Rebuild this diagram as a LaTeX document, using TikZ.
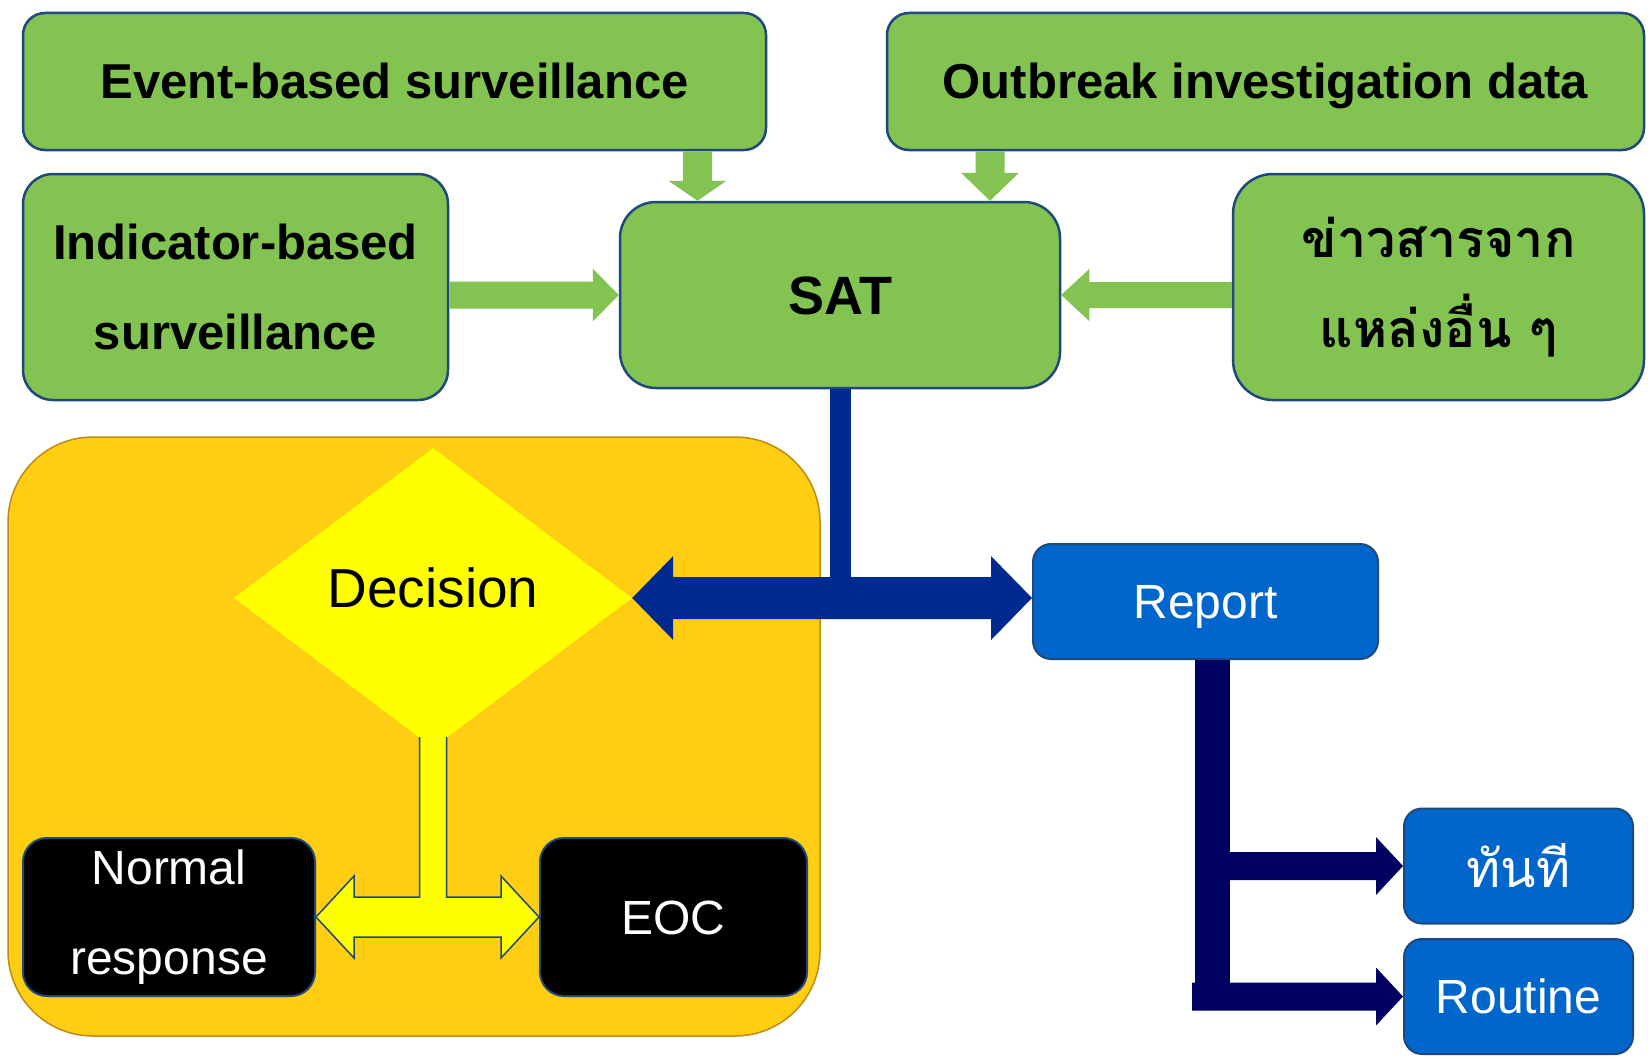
\documentclass[tikz,border=0pt]{standalone}
\usepackage{fontspec}
\setmainfont{Liberation Sans}
\newfontfamily\thai[Script=Thai]{Loma}
\usetikzlibrary{calc,shapes.geometric}
\definecolor{grn}{RGB}{130,195,82}
\definecolor{bord}{RGB}{31,73,125}
\definecolor{blu}{RGB}{0,102,204}
\definecolor{ylw}{RGB}{255,255,0}
\definecolor{org}{RGB}{255,205,17}
\definecolor{orgline}{RGB}{190,140,20}
\definecolor{dblue}{RGB}{0,42,143}
\definecolor{navyb}{RGB}{0,0,96}
% single block arrow: [style]{start}{end}{shaft half}{head half}{head length}
\newcommand\myblockarrow[6][]{%
  \coordinate (ba-s) at (#2);
  \coordinate (ba-e) at (#3);
  \coordinate (ba-b) at ($(ba-e)!#6!(ba-s)$);
  \fill[#1] ($(ba-s)!#4!90:(ba-e)$) -- ($(ba-b)!#4!-90:(ba-s)$) -- ($(ba-b)!#5!-90:(ba-s)$)
    -- (ba-e) -- ($(ba-b)!#5!90:(ba-s)$) -- ($(ba-b)!#4!90:(ba-s)$) -- ($(ba-s)!#4!-90:(ba-e)$) -- cycle;
}
% double block arrow
\newcommand\mydblarrow[6][]{%
  \coordinate (da-a) at (#2);
  \coordinate (da-b) at (#3);
  \coordinate (da-ha) at ($(da-a)!#6!(da-b)$);
  \coordinate (da-hb) at ($(da-b)!#6!(da-a)$);
  \fill[#1] (da-a) -- ($(da-ha)!#5!90:(da-b)$) -- ($(da-ha)!#4!90:(da-b)$) -- ($(da-hb)!#4!-90:(da-a)$)
    -- ($(da-hb)!#5!-90:(da-a)$) -- (da-b) -- ($(da-hb)!#5!90:(da-a)$) -- ($(da-hb)!#4!90:(da-a)$)
    -- ($(da-ha)!#4!-90:(da-b)$) -- ($(da-ha)!#5!-90:(da-b)$) -- cycle;
}
\tikzset{
  gbox/.style={draw=bord, line width=2.5pt, fill=grn, inner sep=0pt, align=center,
    font=\fontsize{49}{90}\selectfont\bfseries},
  bbox/.style={draw=bord, line width=2pt, fill=blu, text=white, inner sep=0pt, align=center,
    rounded corners=18pt, font=\fontsize{48}{90}\selectfont},
  kbox/.style={draw=bord, line width=2pt, fill=black, text=white, inner sep=0pt, align=center,
    rounded corners=24pt, font=\fontsize{48}{90}\selectfont},
  oneline/.style={text height=#1, text depth=0pt},
}
\begin{document}
\begin{tikzpicture}[x=1pt,y=-1pt]
\useasboundingbox (0,0) rectangle (1652,1057);
\fill[white] (0,0) rectangle (1652,1057);

% green source boxes
\node[gbox, oneline=35pt, rounded corners=22pt, minimum width=743pt, minimum height=137pt] (ebs) at (394.5,81.5) {Event-based surveillance};
\node[gbox, oneline=35pt, rounded corners=22pt, minimum width=757pt, minimum height=137pt] (obd) at (1265.5,81.5) {Outbreak investigation data};
\node[gbox, rounded corners=30pt, minimum width=425pt, minimum height=226pt] (ind) at (235.5,287) {Indicator-based\\surveillance};
\node[gbox, oneline=39pt, rounded corners=36pt, minimum width=440pt, minimum height=186pt, font=\fontsize{54}{60}\selectfont\bfseries] (sat) at (840,295) {SAT};
\node[gbox, rounded corners=40pt, minimum width=411pt, minimum height=226pt, font=\fontsize{52}{90}\selectfont\bfseries\thai] (oth) at (1438.5,287) {ข่าวสารจาก\\แหล่งอื่น ๆ};

% green arrows
\coordinate (g1x) at (697.5,0);
\coordinate (g2x) at (990,0);
\myblockarrow[grn]{g1x |- ebs.south}{g1x |- sat.north}{14.5pt}{29pt}{20pt}
\myblockarrow[grn]{g2x |- obd.south}{g2x |- sat.north}{14.5pt}{29pt}{28pt}
\myblockarrow[grn]{ind.east |- sat.west}{sat.west}{13.5pt}{26.5pt}{26pt}
\myblockarrow[grn]{oth.west |- sat.east}{sat.east}{13pt}{26pt}{28pt}

% decision group
\node[draw=orgline, line width=1.5pt, fill=org, rounded corners=85pt, minimum width=812pt, minimum height=599pt, inner sep=0pt] (grp) at (414,736.5) {};
\node[shape=diamond, fill=ylw, minimum width=398pt, minimum height=300pt, aspect=1.33, inner sep=0pt,
  text height=40pt, text depth=21pt, font=\fontsize{55}{60}\selectfont] (dec) at (433,598) {Decision};
\node[kbox, minimum width=292pt, minimum height=158pt] (nrm) at (169,917) {Normal\\response};
\node[kbox, oneline=34pt, minimum width=267pt, minimum height=158pt] (eoc) at (673.5,917) {EOC};

% yellow T double arrow
\coordinate (yt) at ([yshift=11pt]dec.south);
\coordinate (yl) at (nrm.east |- eoc.west);
\coordinate (yr) at (eoc.west);
\path[fill=ylw, draw=bord, line width=1.5pt, line join=miter]
  ($(yt)+(-13.5,0)$) -- ($(yt |- yl)+(-13.5,-20)$) -- ($(yl)+(38,-20)$) -- ($(yl)+(38,-41)$)
  -- (yl) -- ($(yl)+(38,41)$) -- ($(yl)+(38,20)$) -- ($(yr)+(-38,20)$) -- ($(yr)+(-38,41)$)
  -- (yr) -- ($(yr)+(-38,-41)$) -- ($(yr)+(-38,-20)$) -- ($(yt |- yl)+(13.5,-20)$) -- ($(yt)+(13.5,0)$);

% report boxes
\node[bbox, oneline=34pt, minimum width=345pt, minimum height=115pt] (rep) at (1205.5,601.5) {Report};
\node[bbox, minimum width=229pt, minimum height=115pt, font=\fontsize{52}{60}\selectfont\thai] (imm) at (1518.5,866) {ทันที};
\node[bbox, oneline=34pt, minimum width=229pt, minimum height=115pt] (rtn) at (1518.5,996.5) {Routine};

% dark blue T from SAT
\fill[dblue] ($(sat.south)+(-10.5,0)$) rectangle ($(sat.south |- dec.east)+(10.5,0)$);
\mydblarrow[dblue]{dec.east}{dec.east -| rep.west}{21pt}{42pt}{41pt}

% navy branches from Report
\coordinate (sx) at (1212.5,0);
\fill[navyb] ($(sx |- rep.south)+(-17.5,0)$) rectangle ($(sx |- rtn.west)+(17.5,0)$);
\myblockarrow[navyb]{$(sx |- imm.west)+(17.5,0)$}{imm.west}{14pt}{29pt}{27pt}
\myblockarrow[navyb]{$(sx |- rtn.west)+(-20.5,0)$}{rtn.west}{14pt}{29pt}{27pt}
\end{tikzpicture}
\end{document}
